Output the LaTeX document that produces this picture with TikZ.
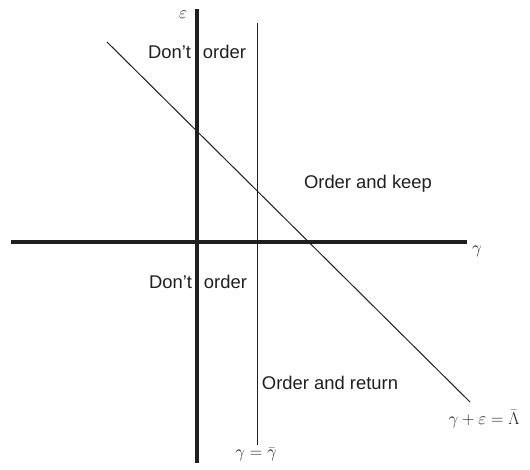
\documentclass[tikz,border=0pt]{standalone}
\usepackage{fontspec}
\setmainfont{Liberation Sans}
\begin{document}
\begin{tikzpicture}[x=1pt,y=-1pt,
  axis/.style={line width=3.3pt,draw=black!88},
  thinline/.style={line width=1pt,draw=black!88},
  lbl/.style={inner sep=0pt,font=\fontsize{18.4}{22}\selectfont,text=black!88},
  mlbl/.style={inner sep=0pt,font=\fontsize{18.8}{22}\selectfont,text=black!88}]
\useasboundingbox (0,0) rectangle (530,470);
% coordinates
\coordinate (hl) at (11,242);
\coordinate (hr) at (467,242);
\coordinate (vt) at (197,9);
\coordinate (vb) at (197,463);
\coordinate (gt) at (257,23);
\coordinate (gb) at (257,445);
\coordinate (dt) at (107,42);
\coordinate (db) at (470,402);
% lines
\draw[thinline] (dt) -- (db);
\draw[thinline] (gt) -- (gb);
\draw[axis] (hl) -- (hr);
\draw[axis] (vt) -- (vb);
% labels
\node[mlbl] (eps) at (183,15) {$\varepsilon$};
\node[mlbl] (gam) at (477,251) {$\gamma$};
\node[lbl] (dont1) at (197,52) {Don’t\hskip 12pt order};
\node[lbl] (keep) at (368,184) {Order and keep};
\node[lbl] (dont2) at (198,282) {Don’t\hskip 12pt order};
\node[lbl] (ret) at (330,383) {Order and return};
\node[mlbl] (diag) at (484,419) {$\gamma+\varepsilon=\bar{\Lambda}$};
\node[mlbl] (vert) at (256,454) {$\gamma=\bar{\gamma}$};
\end{tikzpicture}
\end{document}
